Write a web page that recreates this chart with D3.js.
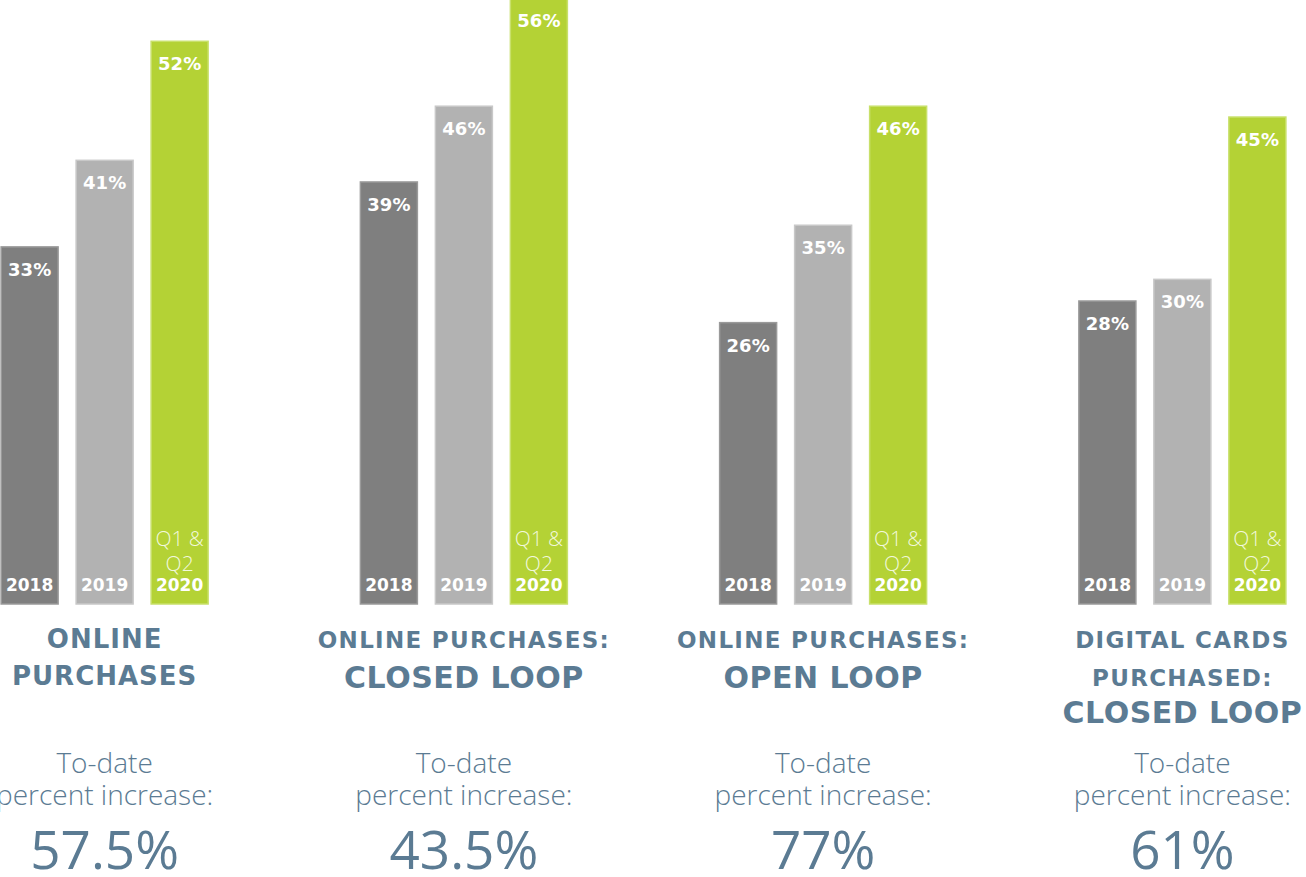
<!DOCTYPE html>
<html>
<head>
<meta charset="utf-8">
<script src="https://cdn.jsdelivr.net/npm/d3@7"></script>
<style>
  body { margin: 0; background: #fff; }
  svg { display: block; }
</style>
</head>
<body>
<div id="chart"></div>
<script>
// data
const titles = [
  [["ONLINE", "s"], ["PURCHASES", "s"]],
  [["ONLINE PURCHASES:", "m"], ["CLOSED LOOP", "l"]],
  [["ONLINE PURCHASES:", "m"], ["OPEN LOOP", "l"]],
  [["DIGITAL CARDS", "m"], ["PURCHASED:", "m"], ["CLOSED LOOP", "l"]]
];
const years = ["2018", "2019", "2020"];
const values2018 = [33, 39, 26, 28];
const values2019 = [41, 46, 35, 30];
const values2020 = [52, 56, 46, 45];
const increases = ["57.5%", "43.5%", "77%", "61%"];

const width = 1306, height = 877;
const fills = { "2018": "#7f7f7f", "2019": "#b2b2b2", "2020": "#b4d235" };
const strokes = { "2018": "#9a9a9a", "2019": "#c8c8c8", "2020": "#c8e06a" };
const textColor = "#5b7b93";

const svg = d3.select("#chart").append("svg")
  .attr("width", width)
  .attr("height", height);

const x0 = d3.scaleBand()
  .domain(d3.range(titles.length))
  .range([-75, 1362])
  .paddingInner(0);

const x1 = d3.scaleBand()
  .domain(years)
  .range([0, 225])
  .paddingInner(0.24)
  .paddingOuter(0.12);

const y = d3.scaleLinear()
  .domain([0, 56])
  .range([604, -2]);

const series = { "2018": values2018, "2019": values2019, "2020": values2020 };

const groups = svg.selectAll("g.group")
  .data(d3.range(titles.length))
  .join("g")
  .attr("class", "group")
  .attr("transform", i => `translate(${x0(i) + x0.bandwidth() / 2 - 112.5},0)`);

const bars = groups.selectAll("g.bar")
  .data(i => years.map(yr => ({ yr, v: series[yr][i] })))
  .join("g")
  .attr("class", "bar");

bars.append("rect")
  .attr("x", d => x1(d.yr))
  .attr("y", d => y(d.v))
  .attr("width", x1.bandwidth())
  .attr("height", d => y(0) - y(d.v))
  .attr("fill", d => fills[d.yr])
  .attr("stroke", d => strokes[d.yr])
  .attr("stroke-width", 1.5);

bars.append("text")
  .attr("x", d => x1(d.yr) + x1.bandwidth() / 2)
  .attr("y", d => y(d.v) + 29)
  .attr("text-anchor", "middle")
  .attr("fill", "#fff")
  .attr("font-family", "DejaVu Sans")
  .attr("font-weight", "bold")
  .attr("font-size", 18)
  .text(d => d.v + "%");

bars.append("text")
  .attr("x", d => x1(d.yr) + x1.bandwidth() / 2)
  .attr("y", y(0) - 13)
  .attr("text-anchor", "middle")
  .attr("fill", "#fff")
  .attr("font-family", "DejaVu Sans")
  .attr("font-weight", "bold")
  .attr("font-size", 17)
  .text(d => d.yr);

// "Q1 & Q2" note above 2020
const q = bars.filter(d => d.yr === "2020");
["Q1 &", "Q2"].forEach((t, k) => {
  q.append("text")
    .attr("x", d => x1(d.yr) + x1.bandwidth() / 2)
    .attr("y", y(0) - 58 + k * 25)
    .attr("text-anchor", "middle")
    .attr("fill", "#f2f8dc")
    .attr("font-family", "Open Sans")
    .attr("font-weight", 300)
    .attr("font-size", 21)
    .text(t);
});

// titles
const sizes = { s: 26, m: 23, l: 30 };
const spacing = { s: 1, m: 1.3, l: 0.5 };
groups.each(function (i) {
  const g = d3.select(this);
  const cx = 112.5;
  const lines = titles[i];
  let yy = 648;
  lines.forEach(([t, sz], k) => {
    if (k > 0) yy += (sz === "l" && lines.length === 2) ? 40 : (lines.length === 3 ? 37.5 : 37);
    g.append("text")
      .attr("x", cx)
      .attr("y", yy)
      .attr("text-anchor", "middle")
      .attr("fill", textColor)
      .attr("font-family", "DejaVu Sans")
      .attr("font-weight", "bold")
      .attr("font-size", sizes[sz])
      .attr("letter-spacing", spacing[sz])
      .text(t);
  });

  g.append("text")
    .attr("x", cx).attr("y", 773)
    .attr("text-anchor", "middle")
    .attr("fill", textColor)
    .attr("font-family", "Open Sans")
    .attr("font-weight", 300)
    .attr("font-size", 28)
    .text("To-date");
  g.append("text")
    .attr("x", cx).attr("y", 805)
    .attr("text-anchor", "middle")
    .attr("fill", textColor)
    .attr("font-family", "Open Sans")
    .attr("font-weight", 300)
    .attr("font-size", 28)
    .text("percent increase:");
  g.append("text")
    .attr("x", cx).attr("y", 869)
    .attr("text-anchor", "middle")
    .attr("fill", textColor)
    .attr("font-family", "Open Sans")
    .attr("font-weight", 400)
    .attr("font-size", 53)
    .text(increases[i]);
});
</script>
</body>
</html>
